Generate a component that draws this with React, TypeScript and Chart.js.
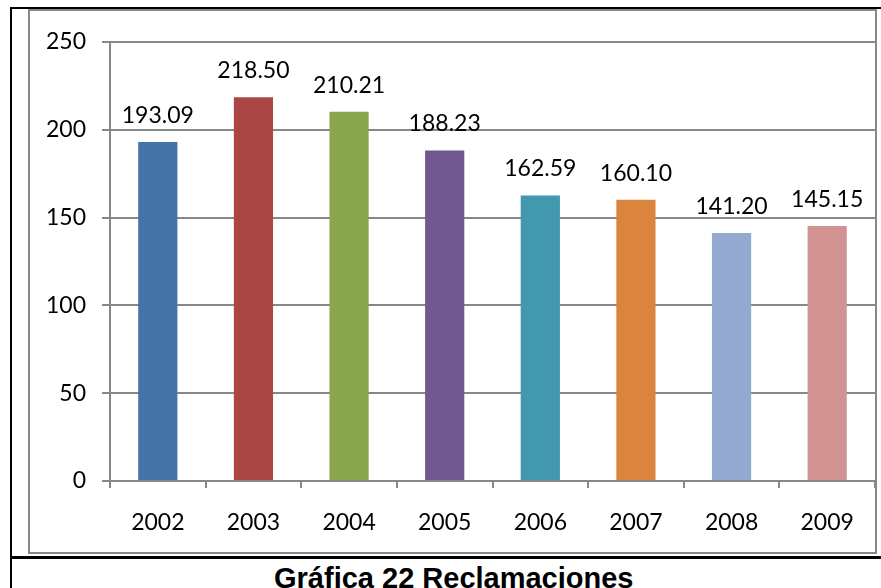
import React, { useEffect, useRef } from "react";
import { Chart, registerables } from "chart.js";

Chart.register(...registerables);

const years = ["2002", "2003", "2004", "2005", "2006", "2007", "2008", "2009"];
const reclamaciones = [193.09, 218.5, 210.21, 188.23, 162.59, 160.1, 141.2, 145.15];
const barColors = ["#4572A7", "#AA4643", "#89A54E", "#71588F", "#4198AF", "#DB843D", "#93A9CF", "#D19392"];
const yMin = 0;
const yMax = 250;
const yStep = 50;
const titleText = "Gráfica 22 Reclamaciones";

const GRID = "#878787";
const FONT = "Lato";

const labelPlugin = {
  id: "barValueLabels",
  afterDatasetsDraw(chart: any) {
    const ctx = chart.ctx;
    const meta = chart.getDatasetMeta(0);
    const data = chart.data.datasets[0].data as number[];
    ctx.save();
    ctx.font = `23px ${FONT}`;
    ctx.fillStyle = "#000000";
    ctx.textAlign = "center";
    ctx.textBaseline = "alphabetic";
    meta.data.forEach((el: any, i: number) => {
      ctx.fillText(data[i].toFixed(2), el.x, el.y - 19);
    });
    ctx.restore();
  },
};

export default function App() {
  const ref = useRef<HTMLCanvasElement | null>(null);

  useEffect(() => {
    if (!ref.current) return;
    const chart = new Chart(ref.current, {
      type: "bar",
      data: {
        labels: years,
        datasets: [
          {
            data: reclamaciones,
            backgroundColor: barColors,
            borderWidth: 0,
            barPercentage: 0.41,
            categoryPercentage: 1,
          },
        ],
      },
      options: {
        responsive: false,
        animation: false,
        events: [],
        layout: { padding: { top: 31, left: 0, right: 0, bottom: 0 } },
        plugins: {
          legend: { display: false },
          title: { display: false },
          tooltip: { enabled: false },
        },
        scales: {
          x: {
            offset: true,
            grid: {
              display: true,
              offset: true,
              drawOnChartArea: false,
              drawTicks: true,
              tickLength: 7,
              color: GRID,
              lineWidth: 2,
            },
            border: { display: true, color: GRID, width: 2 },
            ticks: {
              color: "#000000",
              padding: 20,
              maxRotation: 0,
              autoSkip: false,
              font: { family: FONT, size: 23, lineHeight: 1.3 },
            },
            afterFit: (axis: any) => {
              axis.height = 71;
            },
          },
          y: {
            min: yMin,
            max: yMax,
            grid: {
              color: GRID,
              lineWidth: 2,
              drawTicks: true,
              tickLength: 8,
            },
            border: { display: true, color: GRID, width: 2 },
            ticks: {
              stepSize: yStep,
              color: "#000000",
              padding: 16,
              font: { family: FONT, size: 23 },
            },
            afterFit: (axis: any) => {
              axis.width = 80;
            },
          },
        },
      },
      plugins: [labelPlugin],
    });
    return () => chart.destroy();
  }, []);

  return (
    <div
      style={{
        position: "fixed",
        left: 0,
        top: 0,
        width: 881,
        height: 588,
        overflow: "hidden",
        background: "#ffffff",
      }}
    >
      <div style={{ position: "absolute", left: 10, top: 7, width: 871, height: 2, background: "#000" }} />
      <div style={{ position: "absolute", left: 10, top: 7, width: 2, height: 581, background: "#000" }} />
      <div
        style={{
          position: "absolute",
          left: 28,
          top: 9,
          width: 849,
          height: 545,
          boxSizing: "border-box",
          border: `2px solid ${GRID}`,
        }}
      />
      <div style={{ position: "absolute", left: 10, top: 556, width: 871, height: 3, background: "#000" }} />
      <canvas
        ref={ref}
        width={845}
        height={541}
        style={{ position: "absolute", left: 30, top: 11, width: 845, height: 541, display: "block" }}
      />
      <div
        style={{
          position: "absolute",
          left: 274,
          top: 564,
          font: 'bold 29px "Liberation Sans", Arial, sans-serif',
          lineHeight: "29px",
          whiteSpace: "nowrap",
          color: "#000",
        }}
      >
        {titleText}
      </div>
    </div>
  );
}
